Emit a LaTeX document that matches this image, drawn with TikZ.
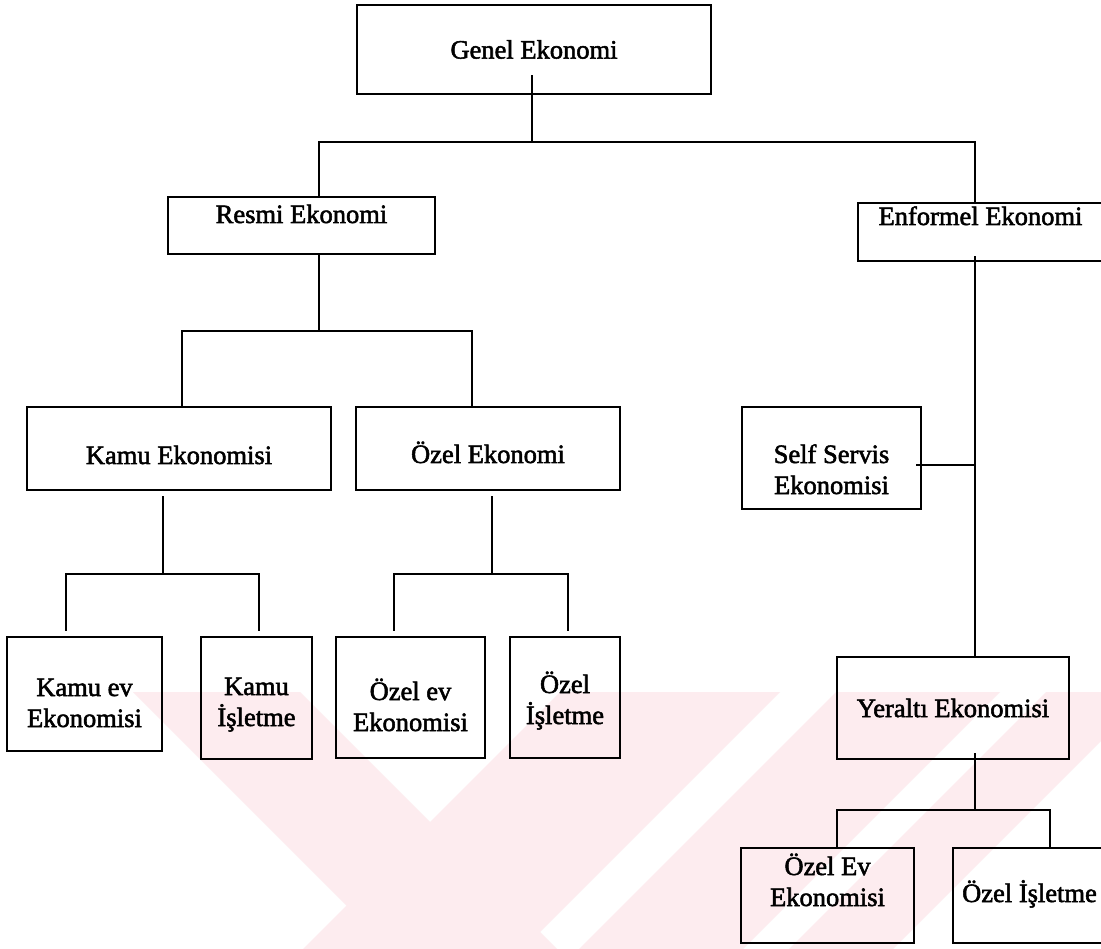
\documentclass[tikz,border=0pt]{standalone}
\usepackage{fontspec}
\setmainfont{Liberation Serif}[FakeBold=2]
\usetikzlibrary{positioning}

\definecolor{markpink}{RGB}{253,236,239}

\tikzset{
  ekbox/.style={draw, rectangle, inner sep=0pt, align=center,
    font=\fontsize{26.5}{31}\selectfont}
}

\begin{document}
\begin{tikzpicture}[x=1pt, y=-1pt, line width=2.6pt, line join=miter]
      \useasboundingbox (0,0) rectangle (1101,949);
      \fill[white] (0,0) rectangle (1101,949);

      %watermark
      \fill[markpink] (133,692) -- (300,692) -- (557,949) -- (390,949) -- cycle;
      \fill[markpink] (560,692) -- (780,692) -- (523,949) -- (303,949) -- cycle;
      \fill[markpink] (836,692) -- (1000,692) -- (743,949) -- (579,949) -- cycle;
      \fill[markpink] (1046,692) -- (1150,692) -- (893,949) -- (789,949) -- cycle;

      %top
      \node[ekbox, minimum width=354pt, minimum height=89pt] (genel) at (534,49.5) {Genel Ekonomi};

      %second row
      \node[ekbox, minimum width=267pt, text height=26pt, text depth=31pt] (resmi) at (301.5,225.5) {Resmi Ekonomi};
      \node[ekbox, minimum width=245pt, text height=22pt, text depth=36pt] (enformel) at (980.5,232) {Enformel Ekonomi};

      %third row
      \node[ekbox, minimum width=304pt, text height=57pt, text depth=26pt] (kamuek) at (179,448.5) {Kamu Ekonomisi};
      \node[ekbox, minimum width=264pt, text height=56pt, text depth=27pt] (ozelek) at (488,448.5) {Özel Ekonomi};
      \node[ekbox, minimum width=179pt, text height=87pt, text depth=15pt] (selfs) at (831.5,458) {Self Servis\\Ekonomisi};

      %bottom row, left
      \node[ekbox, minimum width=155pt, text height=90pt, text depth=24pt] (kamuev) at (84.5,694) {Kamu ev\\Ekonomisi};
      \node[ekbox, minimum width=111pt, text height=89pt, text depth=33pt] (kamuis) at (256.5,698) {Kamu\\İşletme};
      \node[ekbox, minimum width=149pt, text height=94pt, text depth=27pt] (ozelev) at (410.5,697.5) {Özel ev\\Ekonomisi};
      \node[ekbox, minimum width=110pt, text height=87pt, text depth=34pt] (ozelis) at (565,697.5) {Özel\\İşletme};

      %right branch
      \node[ekbox, minimum width=232pt, minimum height=102pt] (yeralti) at (953,708) {Yeraltı Ekonomisi};
      \node[ekbox, minimum width=173pt, text height=58pt, text depth=37pt] (ozelev2) at (827.5,895.5) {Özel Ev\\Ekonomisi};
      \node[ekbox, minimum width=153pt, text height=54pt, text depth=41pt] (ozelis2) at (1029.5,895.5) {Özel İşletme};

      %joints
      \coordinate (j1) at (532,142);
      \coordinate (j2) at (319,331);
      \coordinate (j3) at (163,574);
      \coordinate (j4) at (492,574);
      \coordinate (j5) at (975,465);
      \coordinate (j6) at (975,810);

      %connectors
      \draw ([xshift=-2pt,yshift=20pt]genel.south) -- (j1);
      \draw ([xshift=17.5pt]resmi.north) |- (j1) -| ([xshift=-5.5pt]enformel.north);

      \draw ([xshift=17.5pt]resmi.south) -- (j2);
      \draw ([xshift=3pt]kamuek.north) |- (j2) -| ([xshift=-16pt]ozelek.north);

      \draw ([xshift=-16pt,yshift=-5pt]kamuek.south) -- (j3);
      \draw ([xshift=-18.5pt,yshift=5pt]kamuev.north) |- (j3) -| ([xshift=2.5pt,yshift=5pt]kamuis.north);

      \draw ([xshift=4pt,yshift=-5pt]ozelek.south) -- (j4);
      \draw ([xshift=-16.5pt,yshift=5pt]ozelev.north) |- (j4) -| ([xshift=3pt,yshift=5pt]ozelis.north);

      \draw ([xshift=-5.5pt,yshift=6pt]enformel.south) -- ([xshift=22pt]yeralti.north);
      \draw ([xshift=-6pt,yshift=-7pt]selfs.east) -- (j5);

      \draw ([xshift=22pt,yshift=7pt]yeralti.south) -- (j6);
      \draw ([xshift=9.5pt]ozelev2.north) |- (j6) -| ([xshift=20.5pt]ozelis2.north);
  \end{tikzpicture}
\end{document}
